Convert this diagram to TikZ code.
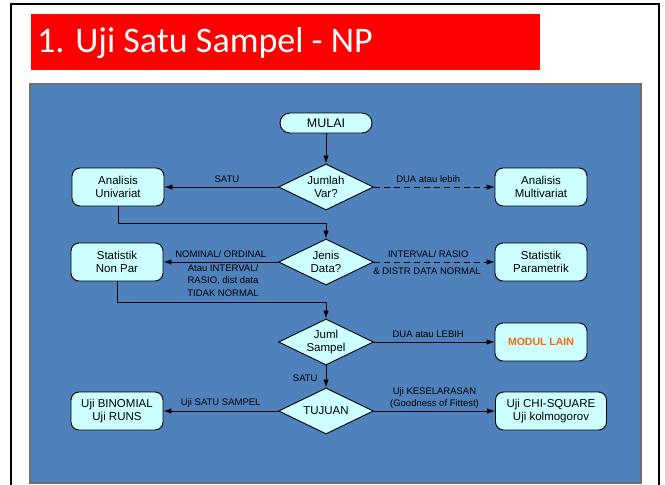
\documentclass[tikz,border=0pt]{standalone}
\usepackage{fontspec}
\setmainfont{Liberation Sans}
\newfontfamily\titlefont{Carlito}
\usetikzlibrary{shapes.geometric,arrows.meta}

\definecolor{panelblue}{RGB}{79,129,189}
\definecolor{paneledge}{RGB}{110,110,110}
\definecolor{boxfill}{RGB}{204,255,255}
\definecolor{titlered}{RGB}{255,0,0}
\definecolor{modulorange}{RGB}{255,102,0}

\tikzset{
  stepbox/.style={draw=black, line width=0.9pt, fill=boxfill, rounded corners=8pt,
    minimum width=92pt, minimum height=38pt, inner sep=0pt, align=center,
    font=\fontsize{11.5}{13}\selectfont},
  startbox/.style={stepbox, rounded corners=10pt, minimum height=20pt},
  decision/.style={draw=black, line width=0.9pt, fill=boxfill, diamond, aspect=2,
    minimum width=95pt, minimum height=46pt, inner sep=0pt, align=center,
    font=\fontsize{11.5}{13}\selectfont},
  flow/.style={line width=0.9pt, -{Latex[length=8pt,width=5.5pt]}},
  altflow/.style={flow, dash pattern=on 6pt off 4pt},
  lbl/.style={font=\fontsize{9.5}{12.5}\selectfont, inner sep=0pt, align=center}
}

\begin{document}
\begin{tikzpicture}[x=1pt, y=-1pt]
  \useasboundingbox (0,0) rectangle (665,485);

  % slide frame
  \draw[line width=2.5pt] (11,490) -- (11,4) -- (659,4) -- (659,490);

  % title bar
  \fill[titlered] (31,14) rectangle (540,70);
  \node[anchor=base west, inner sep=0pt, text=white, font=\titlefont\fontsize{36}{40}\selectfont]
    (title) at (37,52) {1. Uji Satu Sampel - NP};

  % diagram panel
  \draw[fill=panelblue, draw=paneledge, line width=1.2pt] (30,84) rectangle (641,483);

  % nodes
  \node[startbox] (mulai) at (326,123) {\fontsize{12.5}{14}\selectfont MULAI};
  \node[decision] (jumlah) at (326,187) {Jumlah\\Var?};
  \node[stepbox] (univ) at (118,187) {Analisis\\Univariat};
  \node[stepbox] (multi) at (541,187) {Analisis\\Multivariat};

  \node[decision] (jenis) at (326,262) {Jenis\\Data?};
  \node[stepbox] (nonpar) at (117,262) {Statistik\\Non Par};
  \node[stepbox] (param) at (541,262) {Statistik\\Parametrik};

  \node[decision] (juml) at (326,342) {Juml\\Sampel};
  \node[stepbox, text=modulorange, font=\bfseries\fontsize{10.5}{13}\selectfont] (modul) at (541,342) {MODUL LAIN};

  \node[decision] (tujuan) at (326,411) {TUJUAN};
  \node[stepbox] (binom) at (117,411) {Uji BINOMIAL\\Uji RUNS};
  \node[stepbox, minimum width=111pt] (chi) at (551,411) {Uji CHI-SQUARE\\Uji kolmogorov};

  % bend points of the elbow connectors
  \coordinate (bendA) at (326,223);
  \coordinate (bendB) at (326,302);

  % connectors
  \draw[flow] (mulai) -- (jumlah);
  \draw[flow] (jumlah.west) -- node[lbl, above=4pt, pos=0.45] (lsatu) {SATU} (univ.east);
  \draw[altflow] (jumlah.east) -- node[lbl, above=4pt, pos=0.45] (ldua) {DUA atau lebih} (multi.west);

  \draw[flow] (univ.south) |- (bendA) -- (jenis.north);
  \draw[flow] (jenis.west) -- node[lbl, above=4pt] (lnom) {NOMINAL/ ORDINAL} (nonpar.east);
  \node[lbl, anchor=north] (lnom2) at (223,264) {Atau INTERVAL/\\RASIO, dist data\\TIDAK NORMAL};
  \draw[altflow] (jenis.east) -- node[lbl, above=4pt, pos=0.45] (lint) {INTERVAL/ RASIO} (param.west);
  \node[lbl, anchor=north] (lint2) at (427,267.5) {\& DISTR DATA NORMAL};

  \draw[flow] (nonpar.south) |- (bendB) -- (juml.north);
  \draw[flow] (juml.east) -- node[lbl, above=4pt, pos=0.45] (llebih) {DUA atau LEBIH} (modul.west);
  \draw[flow] (juml.south) -- node[lbl, left=8pt, pos=0.6] (lsatu2) {SATU} (tujuan.north);

  \draw[flow] (tujuan.west) -- node[lbl, above=3pt] (lsampel) {Uji SATU SAMPEL} (binom.east);
  \draw[flow] (tujuan.east) -- node[lbl, above=2pt, pos=0.5] (lkes) {Uji KESELARASAN\\(Goodness of Fittest)} (chi.west);
\end{tikzpicture}
\end{document}
